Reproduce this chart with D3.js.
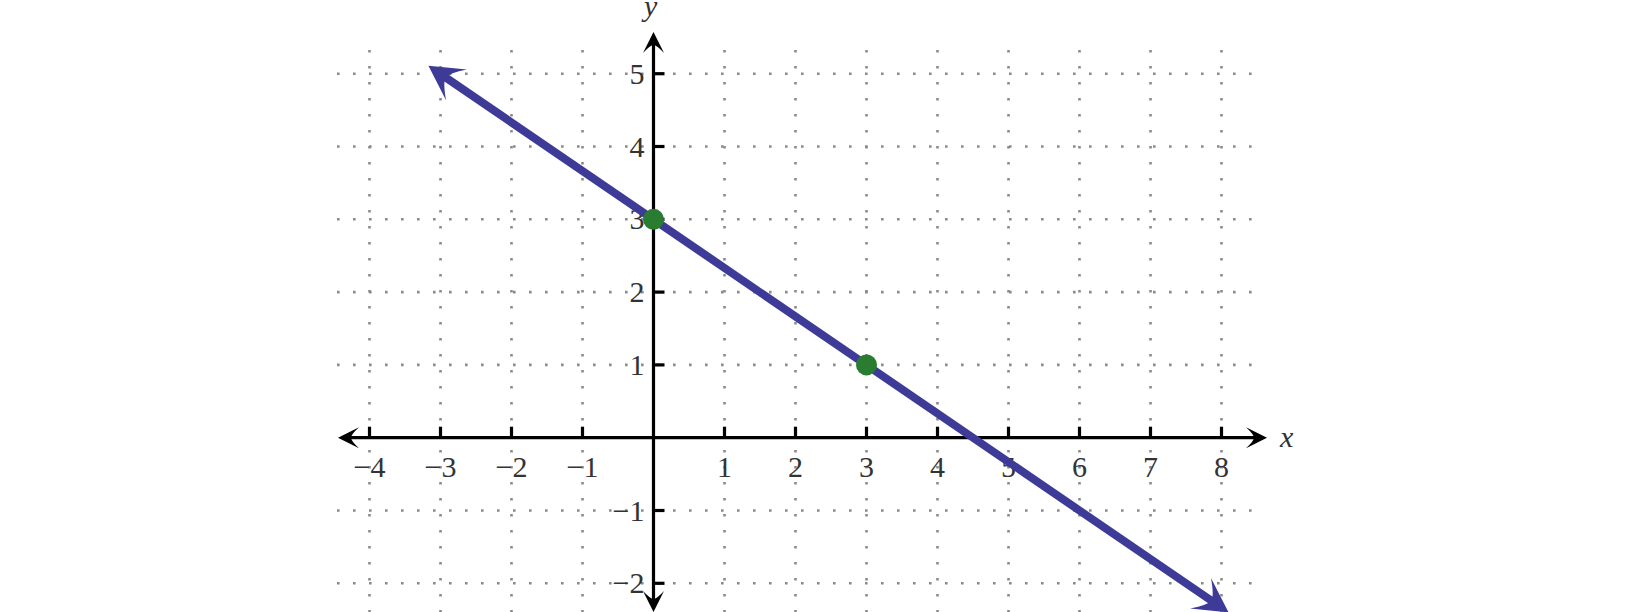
<!DOCTYPE html>
<html>
<head>
<meta charset="utf-8">
<script src="https://cdn.jsdelivr.net/npm/d3@7"></script>
<style>
  html, body { margin: 0; padding: 0; background: #fff; }
  svg { display: block; }
  text { font-family: "Liberation Serif", "DejaVu Serif", serif; fill: #333; }
</style>
</head>
<body>
<div id="chart"></div>
<script>
// data
const xTicks = [-4, -3, -2, -1, 1, 2, 3, 4, 5, 6, 7, 8];
const yTicks = [-2, -1, 1, 2, 3, 4, 5];
const xGrid = [-4, -3, -2, -1, 1, 2, 3, 4, 5, 6, 7, 8];
const yGrid = [-2, -1, 1, 2, 3, 4, 5];
const lineStart = [-3.17, 5.11];
const lineEnd = [8.1, -2.4];
const points = [[0, 3], [3, 1]];

const width = 1632, height = 612;
const blue = '#3d3b97', green = '#2a7c31', gridColor = '#8a8a8a';

const svg = d3.select('#chart').append('svg')
    .attr('width', width).attr('height', height);

const x = d3.scaleLinear().domain([-4, 8]).range([369.5, 1221.5]);
const y = d3.scaleLinear().domain([-2, 5]).range([583.3, 73.7]);

// dotted grid
const grid = svg.append('g')
    .attr('stroke', gridColor).attr('stroke-width', 2.6)
    .attr('stroke-dasharray', '2.6,13.4').attr('fill', 'none');
grid.selectAll('line.v').data(xGrid).join('line').attr('class', 'v')
    .attr('x1', d => x(d)).attr('x2', d => x(d))
    .attr('y1', 50).attr('y2', height);
grid.selectAll('line.h').data(yGrid).join('line').attr('class', 'h')
    .attr('x1', 337).attr('x2', 1252)
    .attr('y1', d => y(d)).attr('y2', d => y(d));

// arrowhead path: tip at origin pointing along +x
function arrowPath(len, half) {
    const notch = len * 0.62;
    return `M0 0 L${-len} ${-half} Q${-notch} ${-half * 0.3} ${-notch} 0 ` +
           `Q${-notch} ${half * 0.3} ${-len} ${half} Z`;
}

// axes
const axes = svg.append('g');
const x0 = x(0), y0 = y(0);
axes.append('line')
    .attr('x1', 345).attr('x2', 1258).attr('y1', y0).attr('y2', y0)
    .attr('stroke', '#000').attr('stroke-width', 3.2);
axes.append('line')
    .attr('x1', x0).attr('x2', x0).attr('y1', 40).attr('y2', 604)
    .attr('stroke', '#000').attr('stroke-width', 3.2);

const axArrows = [
    [1267, y0, 0], [338, y0, 180], [x0, 32, -90], [x0, 612, 90]
];
axes.selectAll('path.ax').data(axArrows).join('path').attr('class', 'ax')
    .attr('d', arrowPath(21, 10.5))
    .attr('transform', d => `translate(${d[0]},${d[1]}) rotate(${d[2]})`)
    .attr('fill', '#000');

// ticks
axes.selectAll('line.xt').data(xTicks).join('line').attr('class', 'xt')
    .attr('x1', d => x(d)).attr('x2', d => x(d))
    .attr('y1', y0).attr('y2', y0 - 11)
    .attr('stroke', '#000').attr('stroke-width', 3.2);
axes.selectAll('line.yt').data(yTicks).join('line').attr('class', 'yt')
    .attr('x1', x0).attr('x2', x0 + 11)
    .attr('y1', d => y(d)).attr('y2', d => y(d))
    .attr('stroke', '#000').attr('stroke-width', 3.2);

const fmt = d => (d < 0 ? '\u2212' + Math.abs(d) : String(d));

axes.selectAll('text.xl').data(xTicks).join('text').attr('class', 'xl')
    .attr('x', d => x(d)).attr('y', y0 + 39)
    .attr('text-anchor', 'middle').attr('font-size', 30)
    .text(fmt);
axes.selectAll('text.yl').data(yTicks).join('text').attr('class', 'yl')
    .attr('x', x0 - 9).attr('y', d => y(d) + 10)
    .attr('text-anchor', 'end').attr('font-size', 30)
    .text(fmt);

svg.append('text').attr('x', 1280).attr('y', 447)
    .attr('font-size', 30).attr('font-style', 'italic').text('x');
svg.append('text').attr('x', 644).attr('y', 16)
    .attr('font-size', 30).attr('font-style', 'italic').text('y');

// the line with arrows at both ends
const p1 = [x(lineStart[0]), y(lineStart[1])];
const p2 = [x(lineEnd[0]), y(lineEnd[1])];
const ang = Math.atan2(p2[1] - p1[1], p2[0] - p1[0]);
const ux = Math.cos(ang), uy = Math.sin(ang);
const back = 18;
svg.append('line')
    .attr('x1', p1[0] + ux * back).attr('y1', p1[1] + uy * back)
    .attr('x2', p2[0] - ux * back).attr('y2', p2[1] - uy * back)
    .attr('stroke', blue).attr('stroke-width', 8);
const deg = ang * 180 / Math.PI;
svg.selectAll('path.la').data([[p2, deg], [p1, deg + 180]]).join('path')
    .attr('class', 'la')
    .attr('d', arrowPath(34, 18.5))
    .attr('transform', d => `translate(${d[0][0]},${d[0][1]}) rotate(${d[1]})`)
    .attr('fill', blue);

// points
svg.selectAll('circle.pt').data(points).join('circle').attr('class', 'pt')
    .attr('cx', d => x(d[0])).attr('cy', d => y(d[1]))
    .attr('r', 10.5).attr('fill', green);
</script>
</body>
</html>
